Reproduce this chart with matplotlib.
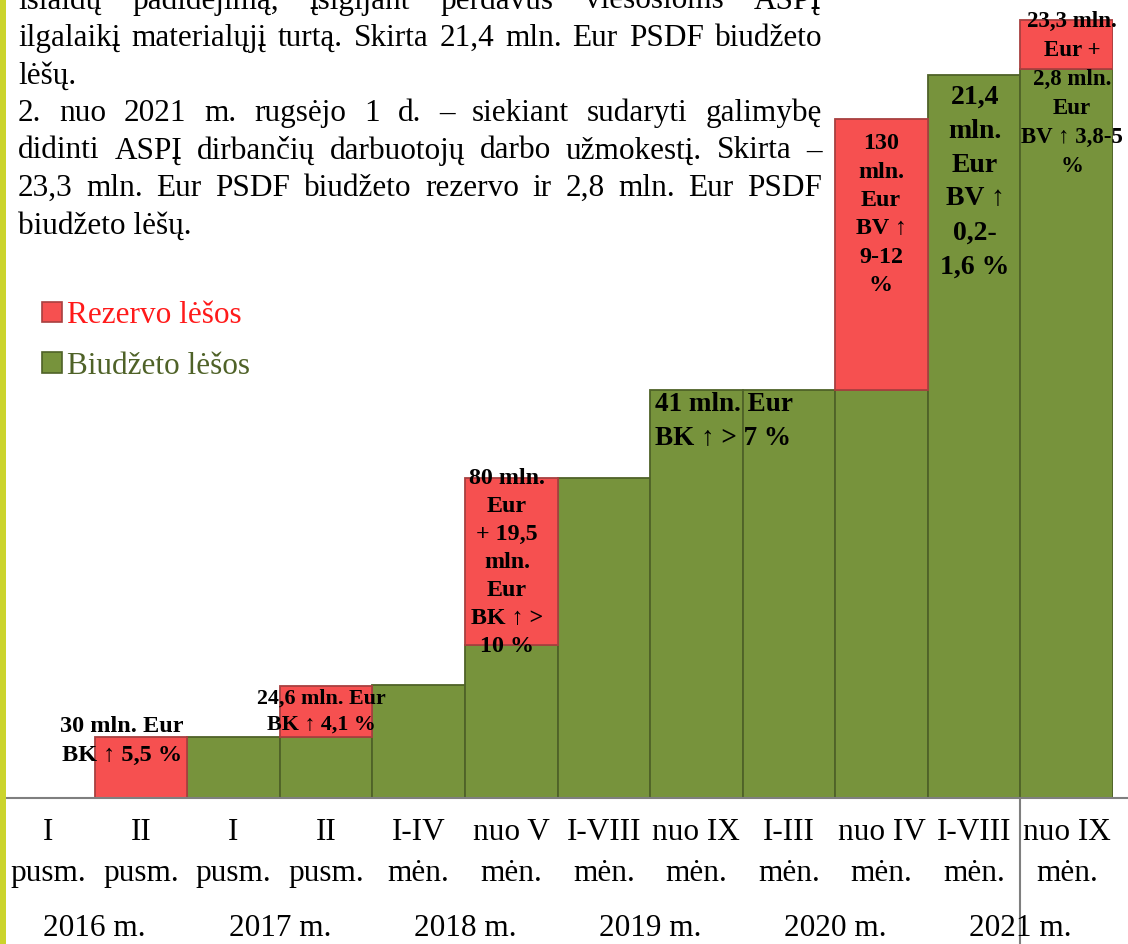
import matplotlib
matplotlib.use("Agg")
import matplotlib.pyplot as plt
from matplotlib.patches import Patch, Rectangle
from matplotlib.lines import Line2D
from matplotlib import transforms
import numpy as np

W, H = 1128, 944

# --- data (mln. Eur, stacked levels) ---
periods = ["I\npusm.", "II\npusm.", "I\npusm.", "II\npusm.", "I-IV\nmėn.", "nuo V\nmėn.",
           "I-VIII\nmėn.", "nuo IX\nmėn.", "I-III\nmėn.", "nuo IV\nmėn.", "I-VIII\nmėn.", "nuo IX\nmėn."]
years = ["2016 m.", "2017 m.", "2018 m.", "2019 m.", "2020 m.", "2021 m."]
budget = [0, 0, 30, 30, 55, 74.5, 156, 199, 199, 199, 352.5, 355.5]
reserve = [0, 30, 0, 24.6, 0, 81.5, 0, 0, 0, 132, 0, 24]
notes = ["30 mln. Eur\nBK ↑ 5,5 %",
         "24,6 mln. Eur\nBK ↑ 4,1 %",
         "80 mln.\nEur\n+ 19,5\nmln.\nEur\nBK ↑ >\n10 %",
         "41 mln. Eur\nBK ↑ > 7 %",
         "130\nmln.\nEur\nBV ↑\n9-12\n%",
         "21,4\nmln.\nEur\nBV ↑\n0,2-\n1,6 %",
         "23,3 mln.\nEur +\n2,8 mln.\nEur\nBV ↑ 3,8-5\n%"]
legend_labels = ["Rezervo lėšos", "Biudžeto lėšos"]
paragraph = [
    ("išlaidų padidėjimą, įsigijant perdavus viešosioms ASPĮ", True),
    ("ilgalaikį materialųjį turtą. Skirta 21,4 mln. Eur PSDF biudžeto", True),
    ("lėšų.", False),
    ("2. nuo 2021 m. rugsėjo 1 d. – siekiant sudaryti galimybę", True),
    ("didinti ASPĮ dirbančių darbuotojų darbo užmokestį. Skirta –", True),
    ("23,3 mln. Eur PSDF biudžeto rezervo ir 2,8 mln. Eur PSDF", True),
    ("biudžeto lėšų.", False),
]

RED, RED_EDGE = "#f65050", "#a84040"
GREEN, GREEN_EDGE = "#77933c", "#4f6228"
GRAY = "#7f7f7f"
FS = 22.5

plt.rcParams["font.family"] = ["Liberation Serif", "DejaVu Serif"]

fig = plt.figure(figsize=(W / 100, H / 100), dpi=100)
fig.patch.set_facecolor("white")

# bar axes: baseline at y=798 px, columns from x=2 to 1113 px
ax = fig.add_axes([2 / W, 146 / H, 1111 / W, 798 / H])
ax.set_xlim(0, 12)
ax.set_ylim(0, 798 / 2.05)
ax.axis("off")

x = np.arange(len(periods))
b = np.array(budget, dtype=float)
r = np.array(reserve, dtype=float)
gm = b > 0
rm = r > 0
ax.bar(x[gm], b[gm], width=1, align="edge", color=GREEN, edgecolor=GREEN_EDGE, lw=1.3)
ax.bar(x[rm], r[rm], bottom=b[rm], width=1, align="edge", color=RED, edgecolor=RED_EDGE, lw=1.3)

# annotations: (x, y, fontsize, ha, linespacing)
note_pos = [(1.296, 27.8, 17.5, "center", 1.44),
            (3.45, 42.2, 15.8, "center", 1.38),
            (5.455, 114.9, 17.3, "center", 1.43),
            (7.053, 183.9, 19.5, "left", 1.42),
            (9.494, 284.6, 17.3, "center", 1.46),
            (10.51, 300.5, 20, "center", 1.47),
            (11.557, 343.4, 16.5, "center", 1.5)]
for txt, (nx, ny, fs, ha, ls) in zip(notes, note_pos):
    ax.text(nx, ny, txt, ha=ha, va="center", fontsize=fs, fontweight="bold",
            linespacing=ls, multialignment=ha, color="black")

# table below the bars
tr = transforms.blended_transform_factory(ax.transData, fig.transFigure)
for i, p in enumerate(periods):
    ax.text(i + 0.5, 1 - 853 / H, p, transform=tr, ha="center", va="center",
            fontsize=FS, linespacing=1.55)
for j, yl in enumerate(years):
    ax.text(2 * j + 1, 1 - 929 / H, yl, transform=tr, ha="center", va="center", fontsize=FS)

fig.add_artist(Line2D([2 / W, 1], [146 / H, 146 / H], color=GRAY, lw=1.5))
fig.add_artist(Line2D([2.5 / W, 2.5 / W], [0, 146 / H], color=GRAY, lw=1.5))
ax.vlines(11, -72, 0, color=GRAY, lw=1.5, clip_on=False)

# left decorative stripe
fig.add_artist(Rectangle((0, 0), 6 / W, 1, transform=fig.transFigure,
                         color="#cbd42c", lw=0, zorder=5))

# legend
leg = fig.legend(handles=[Patch(fc=RED, ec=RED_EDGE, lw=1.2), Patch(fc=GREEN, ec=GREEN_EDGE, lw=1.2)],
                 labels=legend_labels, loc="upper left", bbox_to_anchor=(42 / W, 1 - 301 / H),
                 frameon=False, fontsize=FS, handlelength=0.65, handleheight=0.65,
                 handletextpad=0.15, labelspacing=0.7, borderpad=0, borderaxespad=0)
for t, c in zip(leg.get_texts(), ["#ff1a1a", "#4f6228"]):
    t.set_color(c)

# justified paragraph at the top
renderer = fig.canvas.get_renderer()
left, right = 18, 822
for k, (line, full) in enumerate(paragraph):
    base = 1 - (8.5 + 37.5 * k) / H
    if not full:
        fig.text(left / W, base, line, ha="left", va="baseline", fontsize=FS)
        continue
    words = line.split(" ")
    arts = [fig.text(0, base, w, ha="left", va="baseline", fontsize=FS) for w in words]
    widths = [a.get_window_extent(renderer).width for a in arts]
    gap = (right - left - sum(widths)) / (len(words) - 1)
    pos = left
    for a, w in zip(arts, widths):
        a.set_x(pos / W)
        pos += w + gap

fig.savefig("out.png", dpi=100, facecolor="white")
